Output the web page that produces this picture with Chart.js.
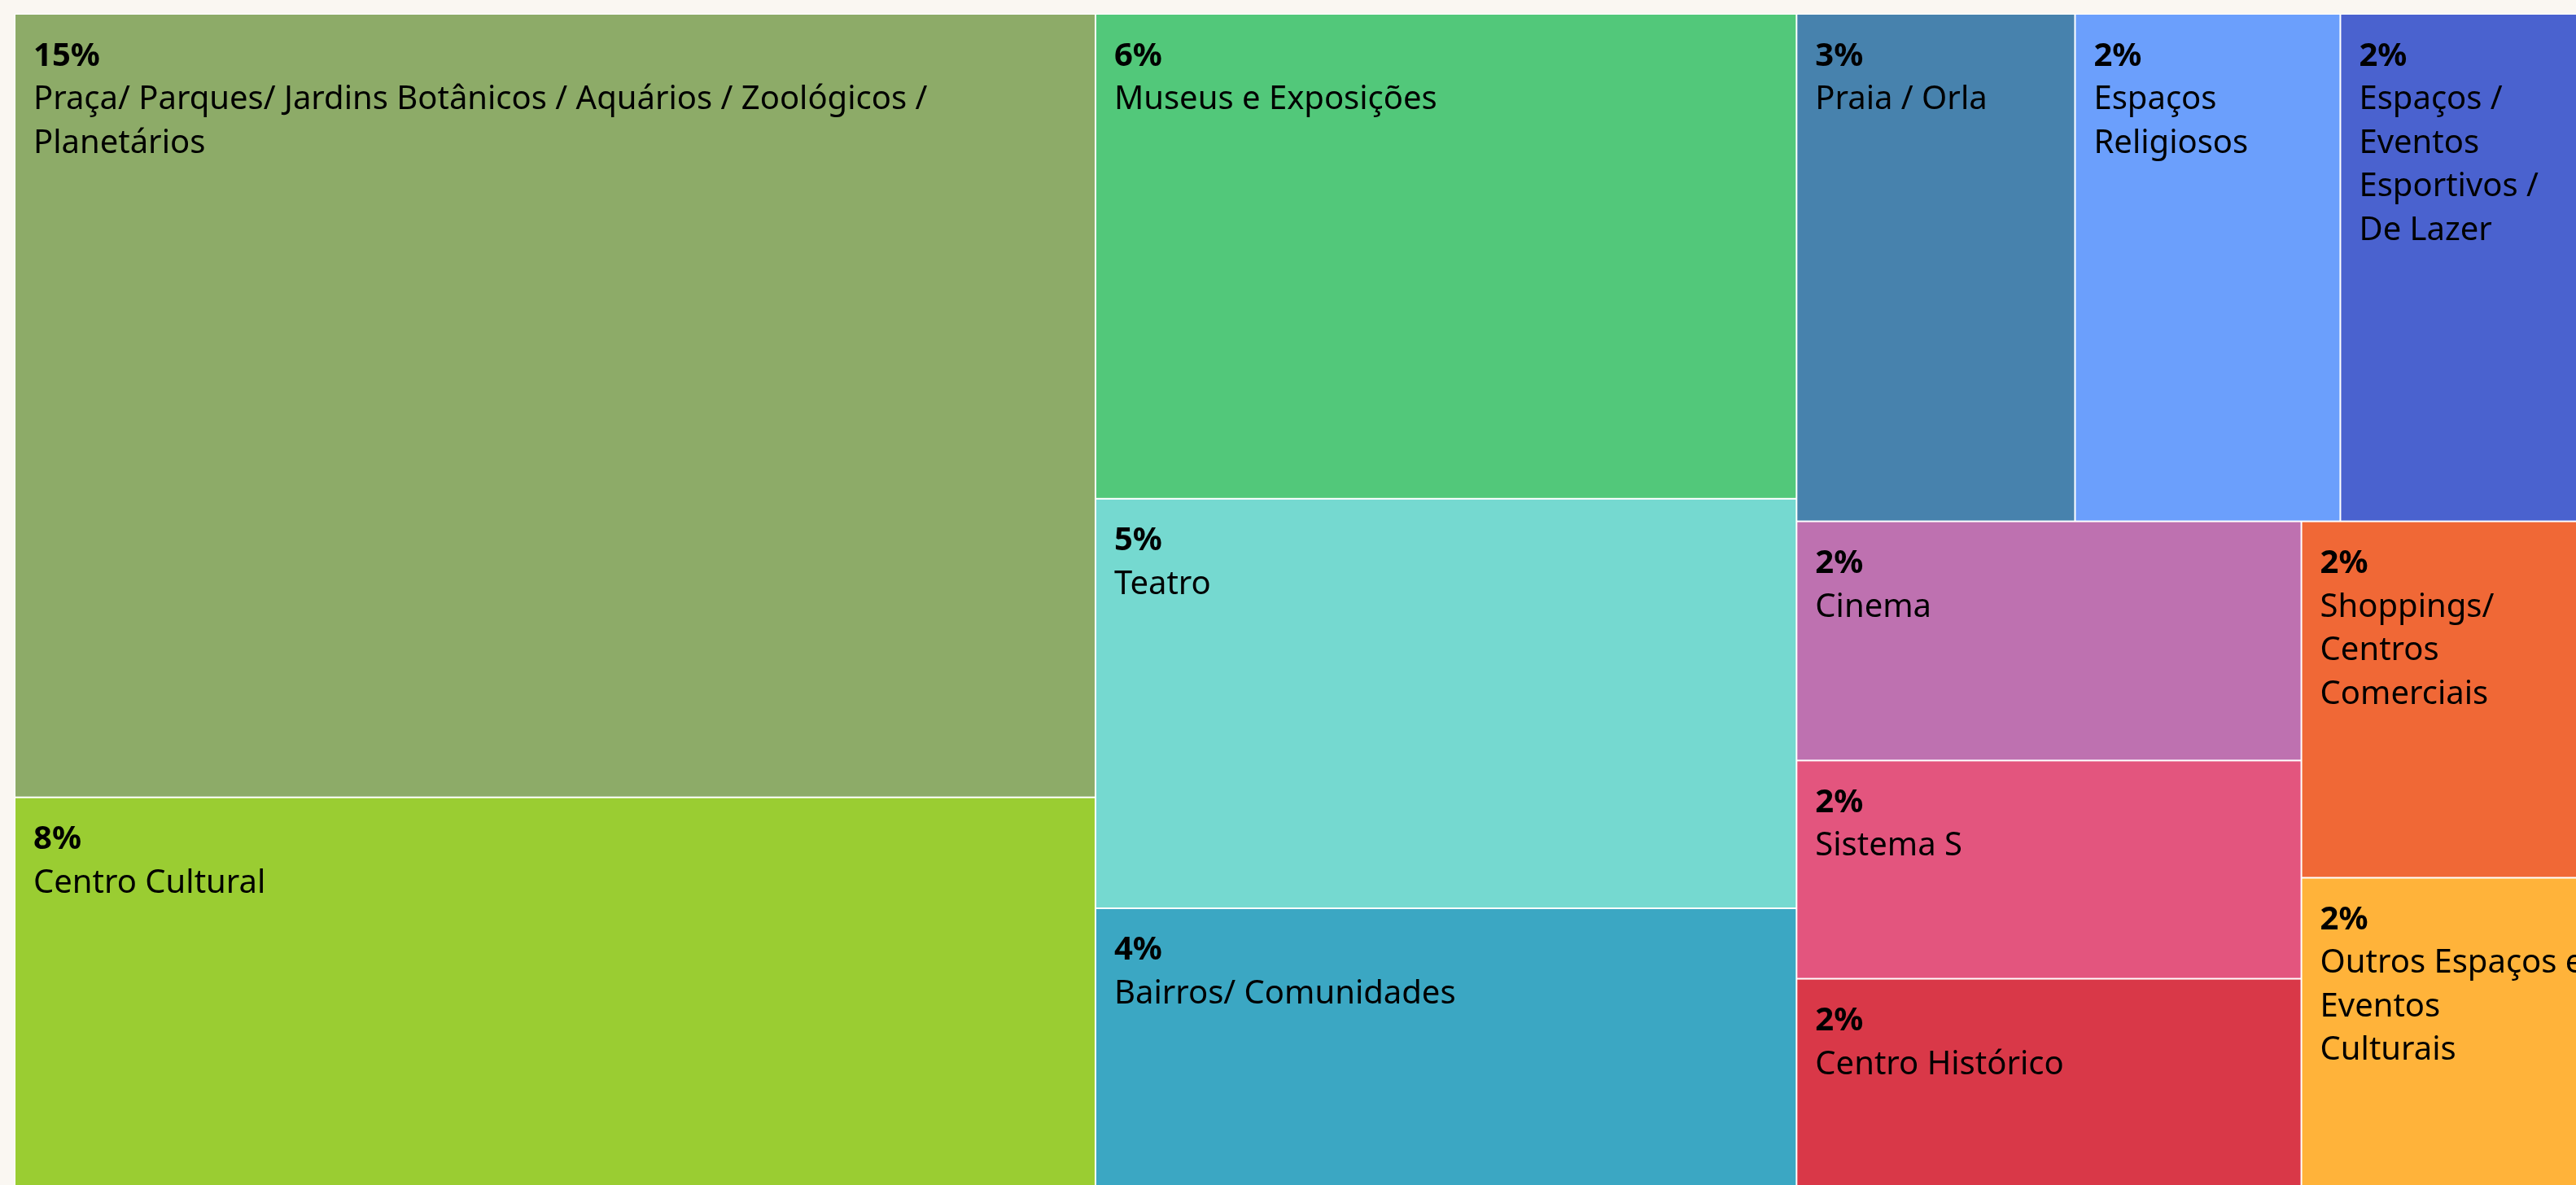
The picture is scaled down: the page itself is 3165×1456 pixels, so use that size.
<!DOCTYPE html>
<html>
<head>
<meta charset="utf-8">
<script src="https://cdn.jsdelivr.net/npm/chart.js@4.4.1/dist/chart.umd.min.js"></script>
<style>
html,body{margin:0;padding:0;width:3165px;height:1456px;overflow:hidden;background:#FAF7F2;}
#wrap{position:absolute;left:18px;top:17px;width:3174px;height:1451px;}
canvas{display:block;}
</style>
</head>
<body>
<div id="wrap"><canvas id="c" width="3174" height="1451"></canvas></div>
<script>
// ---- data (share of total, %) ----
// "\n" marks a line break where the original label wrapped
const categories = [
  "Praça/ Parques/ Jardins Botânicos / Aquários / Zoológicos / Planetários",
  "Centro Cultural",
  "Museus e Exposições",
  "Teatro",
  "Bairros/ Comunidades",
  "Praia / Orla",
  "Espaços Religiosos",
  "Espaços / Eventos Esportivos /\nDe Lazer",
  "Cinema",
  "Sistema S",
  "Centro Histórico",
  "Shoppings/ Centros Comerciais",
  "Outros Espaços e Eventos\nCulturais"
];
const shares = [15.22, 7.72, 6.11, 5.16, 3.61, 2.54, 2.42, 2.35, 2.17, 1.98, 1.96, 1.90, 1.69];
const colors = [
  "#8DAB68", "#9ACD32", "#52C87A", "#75D9D0", "#3BA7C3", "#4782AD", "#6B9FFC",
  "#4A62CF", "#BE71B0", "#E3557E", "#D93848", "#F06836", "#FFB33A"
];

// ---- squarified-style layout in data units (area == value) ----
const canvasEl = document.getElementById('c');
const aspect = canvasEl.width / canvasEl.height;
const total = shares.reduce((a, b) => a + b, 0);
const XMAX = Math.sqrt(total * aspect);
const YMAX = total / XMAX;
const TOL = 3;

function worst(vals, sum, side) {
  const thick = sum / side;
  let w = 0;
  vals.forEach(v => {
    const len = v / thick;
    w = Math.max(w, len / thick, thick / len);
  });
  return w;
}

function layout(vals, rx, ry, rw, rh) {
  const out = new Array(vals.length);
  let i = 0, x = rx, y = ry, w = rw, h = rh;
  while (i < vals.length) {
    if (i === vals.length - 1) { out[i] = {x0: x, y0: y, x1: x + w, y1: y + h}; break; }
    const vertical = w >= h;
    const side = vertical ? h : w;
    let row = [vals[i]], sum = vals[i], wPrev = worst(row, sum, side), j = i + 1;
    while (j < vals.length) {
      const cand = row.concat([vals[j]]), s2 = sum + vals[j];
      const wNew = worst(cand, s2, side);
      if (wNew <= wPrev || wNew <= TOL) { row = cand; sum = s2; wPrev = wNew; j++; } else break;
    }
    const thick = sum / side;
    let off = 0;
    for (let k = i; k < j; k++) {
      const len = vals[k] / thick;
      out[k] = vertical
        ? {x0: x, x1: x + thick, y0: y + off, y1: y + off + len}
        : {x0: x + off, x1: x + off + len, y0: y, y1: y + thick};
      off += len;
    }
    if (vertical) { x += thick; w -= thick; } else { y += thick; h -= thick; }
    i = j;
  }
  return out;
}

const cells = layout(shares, 0, 0, XMAX, YMAX).map((r, k) => Object.assign(r, {
  label: categories[k], pct: Math.round(shares[k]) + '%', color: colors[k]
}));

function wrapText(ctx, text, maxW) {
  const lines = [];
  text.split('\n').forEach(par => {
    let cur = '';
    par.split(' ').forEach(wd => {
      const test = cur ? cur + ' ' + wd : wd;
      if (cur && ctx.measureText(test).width > maxW) { lines.push(cur); cur = wd; }
      else cur = test;
    });
    if (cur) lines.push(cur);
  });
  return lines;
}

const treemapPlugin = {
  id: 'treemapPlugin',
  afterDatasetsDraw(chart) {
    const {ctx, chartArea} = chart;
    const xs = chart.scales.x, ys = chart.scales.y;
    ctx.save();
    ctx.fillStyle = '#ffffff';
    ctx.fillRect(chartArea.left, chartArea.top, chartArea.width, chartArea.height);
    cells.forEach(c => {
      const l = xs.getPixelForValue(c.x0), r = xs.getPixelForValue(c.x1);
      const t = ys.getPixelForValue(c.y0), b = ys.getPixelForValue(c.y1);
      ctx.fillStyle = c.color;
      ctx.fillRect(l + 1, t + 1, r - l - 2, b - t - 2);
      ctx.save();
      ctx.beginPath();
      ctx.rect(l + 1, t + 1, r - l - 2, b - t - 2);
      ctx.clip();
      ctx.fillStyle = '#000000';
      ctx.textAlign = 'left';
      ctx.textBaseline = 'alphabetic';
      ctx.font = 'bold 40px "Noto Sans"';
      ctx.fillText(c.pct, l + 23, t + 63.5);
      ctx.font = '40px "Noto Sans"';
      const lines = wrapText(ctx, c.label, r - l - 31);
      lines.forEach((ln, k) => ctx.fillText(ln, l + 23, t + 63.5 + 53.5 * (k + 1)));
      ctx.restore();
    });
    ctx.restore();
  }
};

new Chart(canvasEl, {
  type: 'scatter',
  data: { datasets: [{ data: [] }] },
  options: {
    responsive: false,
    animation: false,
    layout: { padding: 0 },
    plugins: { legend: { display: false }, tooltip: { enabled: false } },
    scales: {
      x: { type: 'linear', min: 0, max: XMAX, display: false },
      y: { type: 'linear', min: 0, max: YMAX, reverse: true, display: false }
    }
  },
  plugins: [treemapPlugin]
});
</script>
</body>
</html>
